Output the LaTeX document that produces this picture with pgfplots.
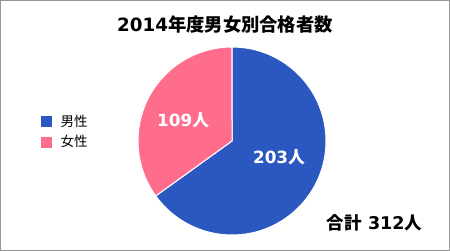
\documentclass[border=0pt]{standalone}
\usepackage{pgfplots}
\pgfplotsset{compat=1.18}
\usepackage{fontspec}
\setmainfont{Noto Sans CJK JP}
\newfontfamily\dv{DejaVu Sans}
\definecolor{maleblue}{RGB}{43,87,192}
\definecolor{femalepink}{RGB}{255,109,140}
\definecolor{framegray}{RGB}{150,150,150}
\pgfmathsetmacro{\male}{203}
\pgfmathsetmacro{\female}{109}
\pgfmathsetmacro{\total}{\male+\female}
\pgfmathsetmacro{\angA}{90}
\pgfmathsetmacro{\angB}{90-360*(\male/\total)}
\pgfmathsetmacro{\angC}{\angB-360*(\female/\total)}
\begin{document}
\begin{tikzpicture}[x=1pt,y=1pt]
\useasboundingbox (0,0) rectangle (450,251);
\fill[white] (0,0) rectangle (450,251);
\draw[framegray, line width=1.2pt] (0.6,0.6) rectangle (449.4,250.4);
\begin{axis}[
  at={(232pt,110pt)}, anchor=center,
  scale only axis, width=188pt, height=188pt,
  xmin=-1, xmax=1, ymin=-1, ymax=1,
  hide axis, clip=false,
  legend style={at={(axis cs:-2.07,0.31)}, anchor=north west, draw=none, fill=none,
    font=\fontsize{13.5}{14}\selectfont, row sep=5.5pt,
    nodes={inner sep=1pt}},
  legend cell align=left,
  legend image code/.code={\fill[#1] (0pt,-5pt) rectangle (10.5pt,5pt);},
]
\addlegendimage{maleblue}
\addlegendentry{\hspace{8pt}男性}
\addlegendimage{femalepink}
\addlegendentry{\hspace{8pt}女性}
\fill[maleblue, draw=white, line width=1pt] (axis cs:0,0) -- ++(\angA:94pt) arc[start angle=\angA, end angle=\angB, radius=94pt] -- cycle;
\fill[femalepink, draw=white, line width=1pt] (axis cs:0,0) -- ++(\angB:94pt) arc[start angle=\angB, end angle=\angC, radius=94pt] -- cycle;
\node[white, font=\fontsize{16.8}{18}\selectfont\bfseries] at (axis cs:-0.52,0.223) {{\dv\bfseries 109}人};
\node[white, font=\fontsize{16.8}{18}\selectfont\bfseries] at (axis cs:0.5,-0.17) {{\dv\bfseries 203}人};
\end{axis}
\node[font=\fontsize{18.3}{20}\selectfont\bfseries] at (225,226) {{\dv\bfseries 2014}年度男女別合格者数};
\node[font=\fontsize{17.5}{19}\selectfont\bfseries] at (374.5,28) {合計{\dv\bfseries\ 312}人};
\end{tikzpicture}
\end{document}
